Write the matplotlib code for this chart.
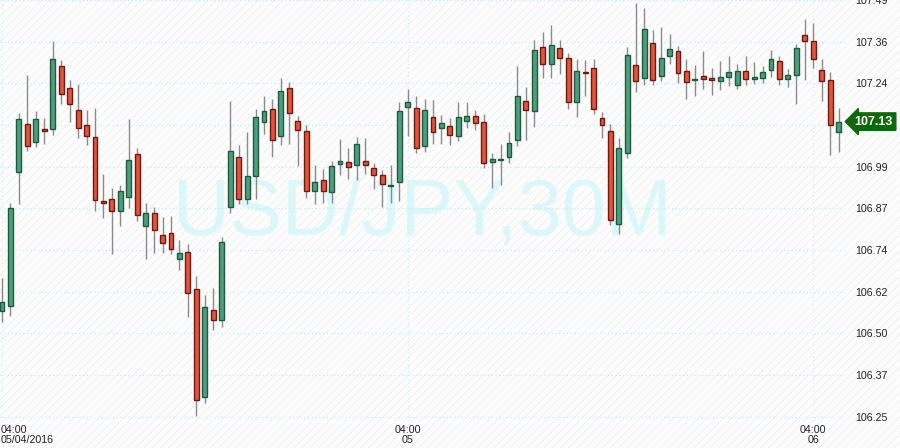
import matplotlib
matplotlib.use("Agg")
import matplotlib.pyplot as plt
from matplotlib.patches import Rectangle

plt.rcParams['font.family'] = ['Liberation Sans', 'DejaVu Sans']
plt.rcParams['hatch.linewidth'] = 0.6

# USD/JPY 30 min candles, 04:00 05/04/2016 -> 06
opens = [106.564, 106.579, 106.977, 107.122, 107.068, 107.106, 107.105, 107.295, 107.227, 107.164,
         107.117, 107.081, 106.891, 106.899, 106.861, 106.905, 107.033, 106.816, 106.855, 106.792,
         106.798, 106.720, 106.739, 106.629, 106.308, 106.566, 106.537, 106.873, 107.024, 106.899,
         106.965, 107.128, 107.167, 107.084, 107.227, 107.131, 107.100, 106.923, 106.953, 106.920,
         107.001, 107.009, 106.998, 107.012, 106.989, 106.968, 106.936, 106.947, 107.173, 107.170,
         107.054, 107.143, 107.108, 107.114, 107.084, 107.131, 107.146, 107.128, 107.007, 107.015,
         107.024, 107.072, 107.188, 107.161, 107.351, 107.301, 107.348, 107.316, 107.185, 107.276,
         107.289, 107.140, 107.099, 106.822, 107.036, 107.298, 107.259, 107.363, 107.265, 107.322,
         107.337, 107.280, 107.252, 107.265, 107.259, 107.250, 107.262, 107.238, 107.280, 107.256,
         107.259, 107.283, 107.307, 107.256, 107.268, 107.387, 107.369, 107.283, 107.253, 107.096]
highs = [106.663, 106.886, 107.155, 107.266, 107.161, 107.140, 107.367, 107.310, 107.253, 107.241,
         107.162, 107.168, 106.971, 106.929, 106.939, 107.135, 107.049, 106.886, 106.874, 106.844,
         106.847, 106.775, 106.764, 106.668, 106.612, 106.632, 106.784, 107.189, 107.058, 107.097,
         107.167, 107.204, 107.194, 107.257, 107.247, 107.146, 107.117, 106.998, 106.987, 107.012,
         107.075, 107.051, 107.082, 107.078, 107.004, 106.983, 106.998, 107.185, 107.224, 107.203,
         107.194, 107.191, 107.149, 107.140, 107.185, 107.185, 107.164, 107.152, 107.036, 107.060,
         107.096, 107.293, 107.230, 107.372, 107.396, 107.415, 107.372, 107.331, 107.313, 107.310,
         107.313, 107.158, 107.122, 107.078, 107.351, 107.480, 107.465, 107.402, 107.409, 107.388,
         107.354, 107.313, 107.298, 107.337, 107.289, 107.307, 107.322, 107.301, 107.322, 107.304,
         107.295, 107.340, 107.322, 107.286, 107.360, 107.432, 107.423, 107.313, 107.277, 107.170]
lows = [106.531, 106.550, 106.882, 107.041, 107.053, 107.062, 107.089, 107.181, 107.127, 107.078,
        107.059, 106.863, 106.842, 106.733, 106.818, 106.871, 106.833, 106.720, 106.736, 106.738,
        106.733, 106.687, 106.547, 106.253, 106.292, 106.509, 106.516, 106.857, 106.883, 106.883,
        106.898, 107.090, 107.023, 107.057, 107.060, 106.995, 106.902, 106.883, 106.886, 106.886,
        106.970, 106.958, 106.955, 106.973, 106.928, 106.874, 106.886, 106.892, 107.086, 107.036,
        107.038, 107.060, 107.060, 107.057, 107.069, 107.108, 107.102, 106.989, 106.929, 106.938,
        107.004, 107.054, 107.072, 107.112, 107.259, 107.259, 107.271, 107.167, 107.143, 107.203,
        107.152, 107.078, 106.819, 106.795, 107.021, 107.215, 107.238, 107.238, 107.250, 107.301,
        107.244, 107.194, 107.205, 107.225, 107.206, 107.221, 107.235, 107.224, 107.238, 107.241,
        107.244, 107.262, 107.238, 107.230, 107.179, 107.253, 107.289, 107.188, 107.030, 107.039]
closes = [106.590, 106.870, 107.137, 107.056, 107.137, 107.100, 107.313, 107.209, 107.179, 107.108,
          107.084, 106.896, 106.885, 106.861, 106.923, 107.015, 106.849, 106.855, 106.804, 106.766,
          106.748, 106.736, 106.617, 106.299, 106.575, 106.537, 106.769, 107.042, 106.899, 106.965,
          107.143, 107.161, 107.072, 107.218, 107.155, 107.102, 106.923, 106.947, 106.923, 106.995,
          107.012, 106.992, 107.060, 106.998, 106.968, 106.941, 106.939, 107.161, 107.185, 107.051,
          107.164, 107.096, 107.125, 107.087, 107.143, 107.146, 107.125, 107.004, 107.018, 107.018,
          107.063, 107.203, 107.164, 107.340, 107.301, 107.357, 107.316, 107.185, 107.280, 107.274,
          107.167, 107.117, 106.834, 107.051, 107.325, 107.250, 107.405, 107.253, 107.316, 107.343,
          107.274, 107.247, 107.254, 107.256, 107.253, 107.262, 107.277, 107.280, 107.256, 107.262,
          107.277, 107.313, 107.256, 107.268, 107.346, 107.369, 107.313, 107.250, 107.117, 107.128]

price_ticks = [106.25, 106.374, 106.498, 106.622, 106.746, 106.87, 106.994, 107.118, 107.242, 107.366, 107.49]
price_labels = ['106.25', '106.37', '106.50', '106.62', '106.74', '106.87', '106.99', '', '107.24', '107.36', '107.49']
time_idx = [0, 48, 96]
time_labels = ['04:00\n05/04/2016', '04:00\n05', '04:00\n06']
last_price = '107.13'
watermark = 'USD/JPY,30M'

fig = plt.figure(figsize=(9, 4.48), dpi=100, facecolor='#fdfdfd')
fig.patches.append(Rectangle((0, 0), 1, 1, transform=fig.transFigure, facecolor='#fdfdfd',
                             edgecolor='#efefef', hatch='////', lw=0, zorder=-10))

ax = fig.add_axes([0, 27 / 448, 845 / 900, 421 / 448])
ax.set_facecolor('none')
for s in ax.spines.values():
    s.set_visible(False)

ax.text(0.5, 0.49, watermark, transform=ax.transAxes, ha='center', va='center',
        fontsize=57, color='#dcf7fa', zorder=0)

for p in price_ticks:
    ax.axhline(p, color='#bdeef3', lw=0.9, ls=(0, (1, 2)), zorder=1)
for i in time_idx:
    ax.axvline(i, color='#d5eef0', lw=0.9, ls=(0, (1, 2)), zorder=1)

n = len(opens)
xs = list(range(n))
ax.vlines(xs, lows, highs, color='#8a8a8a', lw=1, zorder=2)

up = [c >= o for o, c in zip(opens, closes)]
bottoms = [min(o, c) for o, c in zip(opens, closes)]
heights = [max(abs(c - o), 0.003) for o, c in zip(opens, closes)]
fills = ['#4f9c80' if u else '#e2553d' for u in up]
edges = ['#1c5c3a' if u else '#6e1a12' for u in up]
ax.bar(xs, heights, bottom=bottoms, width=0.58, color=fills, edgecolor=edges, linewidth=1, zorder=3)

ax.set_xlim(-0.237, 99.76)
ax.set_ylim(106.237, 107.489)

ax.yaxis.tick_right()
ax.set_yticks(price_ticks)
ax.set_yticklabels(price_labels)
ax.tick_params(axis='y', length=0, pad=7, labelsize=7.7, labelcolor='#222222')
ax.set_xticks([])

for i, lab in zip(time_idx, time_labels):
    if i == 0:
        ax.text(-0.15, -0.01, lab, transform=ax.get_xaxis_transform(), ha='left', va='top',
                fontsize=7.7, color='#222222', linespacing=0.95)
    else:
        ax.text(i, -0.01, lab, transform=ax.get_xaxis_transform(), ha='center', va='top',
                fontsize=7.7, color='#222222', linespacing=0.95, multialignment='center')

# current price tag
ax.text(1.0115, closes[-1], last_price, transform=ax.get_yaxis_transform(), ha='left', va='center',
        fontsize=9, fontweight='bold', color='white', clip_on=False, zorder=6,
        bbox=dict(boxstyle='larrow,pad=0.22', fc='#0a6a0a', ec='#0a6a0a'))

fig.savefig('out.png', dpi=100, facecolor=fig.get_facecolor())
